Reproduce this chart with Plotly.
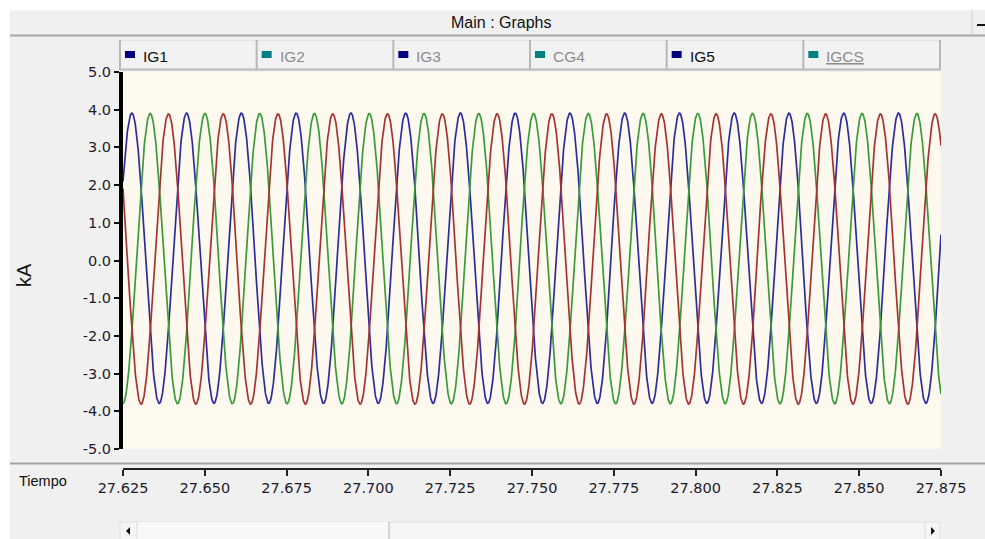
import numpy as np
import plotly.graph_objects as go

# ---- data -------------------------------------------------------------
t_start, t_end = 27.625, 27.875          # Tiempo window (s)
sample_step = 0.0001                     # simulation output step (s)
freq_hz = 59.75                          # measured frequency of the currents
phase_names = ["Fase a", "Fase b", "Fase c"]
phase_colors = ["#2c2ca0", "#389c38", "#a83232"]
amplitude_ka = [3.85, 3.85, 3.85]        # peak current per phase (kA)
offset_ka = [0.06, 0.05, 0.04]           # small DC offset per phase (kA)
first_peak_t = [27.6277, 27.6333, 27.6389]  # first crest of each phase (s)

y_ticks = [5.0, 4.0, 3.0, 2.0, 1.0, 0.0, -1.0, -2.0, -3.0, -4.0, -5.0]
x_ticks = [27.625, 27.650, 27.675, 27.700, 27.725, 27.750,
           27.775, 27.800, 27.825, 27.850, 27.875]

legend_labels = ["IG1", "IG2", "IG3", "CG4", "IG5", "IGCS"]
legend_swatch = ["#000080", "#008080", "#000080", "#008080", "#000080", "#008080"]
legend_text = ["#111111", "#8c8c8c", "#8c8c8c", "#8c8c8c", "#111111", "#8c8c8c"]

# ---- page geometry (pixels) ------------------------------------------
W, H = 985, 539


def X(px):
    return px / W


def Y(py):
    return 1 - py / H


FONT = "Liberation Sans, Arial, sans-serif"

t = np.arange(t_start, t_end + sample_step / 2, sample_step)

fig = go.Figure()
for name, col, amp, off, tp in zip(phase_names, phase_colors, amplitude_ka,
                                   offset_ka, first_peak_t):
    i = off + amp * np.cos(2 * np.pi * freq_hz * (t - tp))
    fig.add_trace(go.Scatter(x=t, y=i, mode="lines", name=name,
                             line=dict(color=col, width=1.7),
                             showlegend=False, hoverinfo="x+y+name"))

shapes = []
annotations = []


def rect(x0, y0, x1, y1, fill, line=None, lw=1):
    shapes.append(dict(type="rect", xref="paper", yref="paper",
                       x0=X(x0), x1=X(x1), y0=Y(y1), y1=Y(y0),
                       fillcolor=fill, layer="below",
                       line=dict(color=line or fill, width=lw if line else 0)))


def hline(x0, x1, y, color, lw=1):
    shapes.append(dict(type="line", xref="paper", yref="paper",
                       x0=X(x0), x1=X(x1), y0=Y(y), y1=Y(y),
                       line=dict(color=color, width=lw), layer="below"))


def vline(x, y0, y1, color, lw=1):
    shapes.append(dict(type="line", xref="paper", yref="paper",
                       x0=X(x), x1=X(x), y0=Y(y0), y1=Y(y1),
                       line=dict(color=color, width=lw), layer="below"))


def text(x, y, s, size, color="#111111", anchor="center", angle=0, family=FONT):
    annotations.append(dict(x=X(x), y=Y(y), xref="paper", yref="paper",
                            text=s, showarrow=False, textangle=angle,
                            xanchor=anchor, yanchor="middle",
                            font=dict(family=family, size=size, color=color)))


# window frame: white outer strips
rect(0, 0, W, 10, "#ffffff")
rect(0, 0, 10, H, "#ffffff")

# title bar
rect(10, 10, 972, 36, "#f0f0f0")
hline(10, 972, 10.5, "#f8f8f8", 1)
hline(10, W, 35.5, "#a8a8a8", 2)
vline(972, 10, 35, "#d4d4d4", 1)
hline(977, 985, 25, "#111111", 2)
text(501, 22, "Main : Graphs", 16)

# legend cells
x_left, x_right = 120, 940
cell_w = (x_right - x_left) / len(legend_labels)
rect(x_left, 40, x_right, 70, "#f2f2f2")
hline(x_left, x_right, 40.5, "#e2e2e2", 1)
hline(x_left, x_right, 69.5, "#b8b8b8", 2)
for k, (lab, sw, tc) in enumerate(zip(legend_labels, legend_swatch, legend_text)):
    cx = x_left + k * cell_w
    vline(cx, 40, 70, "#b8b8b8", 2)
    rect(cx + 5, 51, cx + 15, 58, sw)
    s = "<u>" + lab + "</u>" if lab == "IGCS" else lab
    text(cx + 21, 56, s, 15.5, tc, anchor="left")
vline(x_right, 40, 70, "#b8b8b8", 2)

# divider between plot and time axis
hline(10, W, 463.5, "#a4a4a4", 2)
text(43, 481, "Tiempo", 14.5)
text(24, 275, "kA", 20, angle=-90)

# scroll bar
rect(120, 522, 940, 540, "#f5f5f5", "#e0e0e0", 1)
rect(137, 522, 389, 540, "#f8f8f8")
vline(137, 522, 540, "#dcdcdc", 1)
vline(389, 522, 540, "#c8c8c8", 1.5)
vline(925, 522, 540, "#dcdcdc", 1)
shapes.append(dict(type="path", xref="paper", yref="paper", layer="below",
                   path=f"M {X(126)} {Y(531)} L {X(130)} {Y(527)} L {X(130)} {Y(535)} Z",
                   fillcolor="#111111", line=dict(width=0)))
shapes.append(dict(type="path", xref="paper", yref="paper", layer="below",
                   path=f"M {X(935)} {Y(531)} L {X(931)} {Y(527)} L {X(931)} {Y(535)} Z",
                   fillcolor="#111111", line=dict(width=0)))

fig.update_layout(
    width=W, height=H,
    margin=dict(l=0, r=0, t=0, b=0, autoexpand=False),
    paper_bgcolor="#f0f0f0",
    plot_bgcolor="#fdf9ef",
    shapes=shapes,
    annotations=annotations,
    showlegend=False,
    xaxis=dict(
        domain=[X(123), X(941)], range=[t_start, t_end],
        anchor="free", position=Y(469), automargin=False,
        tickvals=x_ticks, ticktext=[f"{v:.3f}" for v in x_ticks],
        ticks="outside", ticklen=6, tickwidth=2, tickcolor="#222222",
        showline=True, linewidth=2, linecolor="#222222",
        showgrid=False, zeroline=False,
        tickfont=dict(family="DejaVu Sans, sans-serif", size=14.5, color="#1c1c2c"),
    ),
    yaxis=dict(
        domain=[Y(449), Y(72)], range=[-5, 5], automargin=False,
        tickvals=y_ticks, ticktext=[f"{v:.1f}" for v in y_ticks],
        ticks="outside", ticklen=5, tickwidth=2, tickcolor="#111111",
        showline=True, linewidth=4, linecolor="#000000",
        showgrid=False, zeroline=False,
        tickfont=dict(family="DejaVu Sans, sans-serif", size=14.5, color="#1c1c2c"),
    ),
)

fig.write_html("out.html")
